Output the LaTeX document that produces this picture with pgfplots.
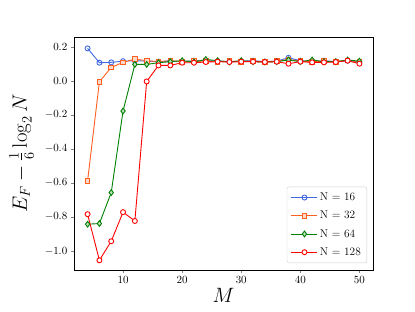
\documentclass[border=0pt]{standalone}
\usepackage{pgfplots}
\pgfplotsset{compat=1.18}
\definecolor{cblue}{RGB}{65,105,225}
\definecolor{corange}{RGB}{255,95,31}
\definecolor{cgreen}{RGB}{0,128,0}
\definecolor{cred}{RGB}{255,0,0}
\begin{document}
\begin{tikzpicture}
\useasboundingbox (0,0) rectangle (415pt,311pt);
\begin{axis}[
  at={(74pt,41pt)}, anchor=south west,
  scale only axis, width=299pt, height=233pt,
  xmin=1.7, xmax=52.3, ymin=-1.112, ymax=0.257,
  xtick={10,20,30,40,50},
  ytick={-1.0,-0.8,-0.6,-0.4,-0.2,0.0,0.2},
  yticklabel style={/pgf/number format/.cd, fixed, fixed zerofill, precision=1},
  tick label style={font=\fontsize{11.3}{13}\selectfont},
  tick align=outside, tick pos=left, major tick length=3.2pt,
  axis line style={line width=0.7pt},
  xlabel={$M$}, ylabel={$E_F-\frac{1}{6}\log_2 N$},
  label style={font=\fontsize{20}{24}\selectfont},
  xlabel style={at={(axis description cs:0.5,-0.11)}, anchor=center},
  ylabel style={at={(axis description cs:-0.175,0.5)}, anchor=center},
  legend style={at={(axis description cs:0.98,0.03)}, anchor=south east,
    font=\fontsize{11.3}{13}\selectfont, draw=black!20, rounded corners=2pt,
    row sep=5pt, inner sep=4pt},
  legend cell align=left,
  legend image code/.code={\draw[mark repeat=2,mark phase=2] plot coordinates {(0pt,0pt) (13pt,0pt) (26pt,0pt)};},
  every axis plot/.append style={line width=0.9pt, mark size=2.5pt},
]
\addplot[color=cblue, mark=o, mark options={fill=cblue!25!white, line width=0.9pt}] coordinates {
(4,0.19)(6,0.106)(8,0.108)(10,0.115)(12,0.118)(14,0.115)(16,0.112)(18,0.115)(20,0.112)(22,0.118)(24,0.118)(26,0.115)(28,0.112)(30,0.115)(32,0.118)(34,0.112)(36,0.115)(38,0.135)(40,0.118)(42,0.112)(44,0.118)(46,0.112)(48,0.118)(50,0.110)};
\addlegendentry{N = 16}
\addplot[color=corange, mark=square*, mark size=2.3pt, mark options={fill=corange!25!white, line width=0.9pt}] coordinates {
(4,-0.588)(6,-0.006)(8,0.078)(10,0.108)(12,0.127)(14,0.118)(16,0.112)(18,0.118)(20,0.112)(22,0.115)(24,0.115)(26,0.112)(28,0.115)(30,0.112)(32,0.115)(34,0.112)(36,0.115)(38,0.125)(40,0.115)(42,0.112)(44,0.115)(46,0.112)(48,0.120)(50,0.110)};
\addlegendentry{N = 32}
\addplot[color=cgreen, mark=diamond*, mark size=2.9pt, mark options={fill=cgreen!25!white, line width=0.9pt}] coordinates {
(4,-0.843)(6,-0.839)(8,-0.657)(10,-0.178)(12,0.096)(14,0.096)(16,0.106)(18,0.112)(20,0.118)(22,0.110)(24,0.125)(26,0.118)(28,0.110)(30,0.118)(32,0.112)(34,0.110)(36,0.112)(38,0.122)(40,0.112)(42,0.122)(44,0.112)(46,0.112)(48,0.122)(50,0.115)};
\addlegendentry{N = 64}
\addplot[color=cred, mark=*, mark options={fill=white, line width=0.9pt}] coordinates {
(4,-0.784)(6,-1.055)(8,-0.943)(10,-0.772)(12,-0.824)(14,-0.004)(16,0.090)(18,0.090)(20,0.106)(22,0.106)(24,0.110)(26,0.112)(28,0.110)(30,0.112)(32,0.112)(34,0.110)(36,0.112)(38,0.100)(40,0.112)(42,0.108)(44,0.108)(46,0.110)(48,0.118)(50,0.100)};
\addlegendentry{N = 128}
\end{axis}
\end{tikzpicture}
\end{document}
